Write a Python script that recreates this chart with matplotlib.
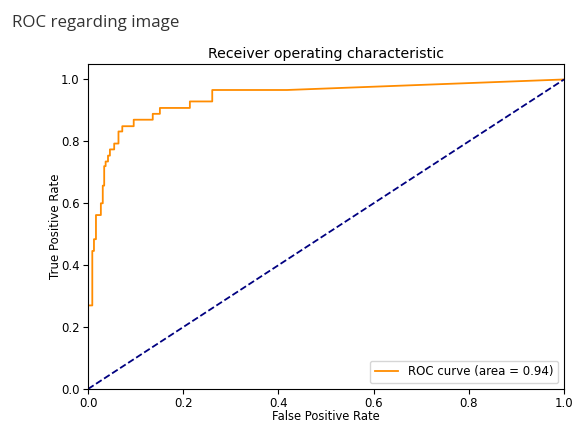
import matplotlib
matplotlib.use("Agg")
import matplotlib.pyplot as plt

# ROC points (step vertices)
fpr = [0.0, 0.0, 0.009, 0.009, 0.0125, 0.0125, 0.0167, 0.0167, 0.027, 0.027,
       0.031, 0.031, 0.034, 0.034, 0.037, 0.037, 0.042, 0.042, 0.046, 0.046,
       0.055, 0.055, 0.064, 0.064, 0.072, 0.072, 0.096, 0.096, 0.136, 0.136,
       0.151, 0.151, 0.214, 0.214, 0.261, 0.261, 0.418, 1.0]
tpr = [0.0, 0.27, 0.27, 0.446, 0.446, 0.484, 0.484, 0.562, 0.562, 0.60,
       0.60, 0.657, 0.657, 0.72, 0.72, 0.735, 0.735, 0.754, 0.754, 0.774,
       0.774, 0.793, 0.793, 0.832, 0.832, 0.849, 0.849, 0.870, 0.870, 0.889,
       0.889, 0.908, 0.908, 0.929, 0.929, 0.966, 0.966, 1.0]
roc_auc = 0.94
diag = [0, 1]

fig = plt.figure(figsize=(5.73, 4.21), dpi=100)
fig.text(0.021, 0.946, "ROC regarding image", fontsize=12.2, color="#333333",
         family="Open Sans", va="center")

ax = fig.add_axes([0.1536, 0.076, 0.8307, 0.772])
ax.plot(fpr, tpr, color="darkorange", lw=1.3,
        label="ROC curve (area = %0.2f)" % roc_auc)
ax.plot(diag, diag, color="navy", lw=1.3, linestyle="--")
ax.set_xlim([0.0, 1.0])
ax.set_ylim([0.0, 1.05])
ax.set_xlabel("False Positive Rate", fontsize=8.3, labelpad=-0.6)
ax.set_ylabel("True Positive Rate", fontsize=8.5, labelpad=-1)
ax.set_title("Receiver operating characteristic", fontsize=10.2, pad=4)
ax.tick_params(labelsize=8.5, pad=2.5)
ax.legend(loc="lower right", fontsize=8.5)

fig.savefig("out.png", dpi=100)
